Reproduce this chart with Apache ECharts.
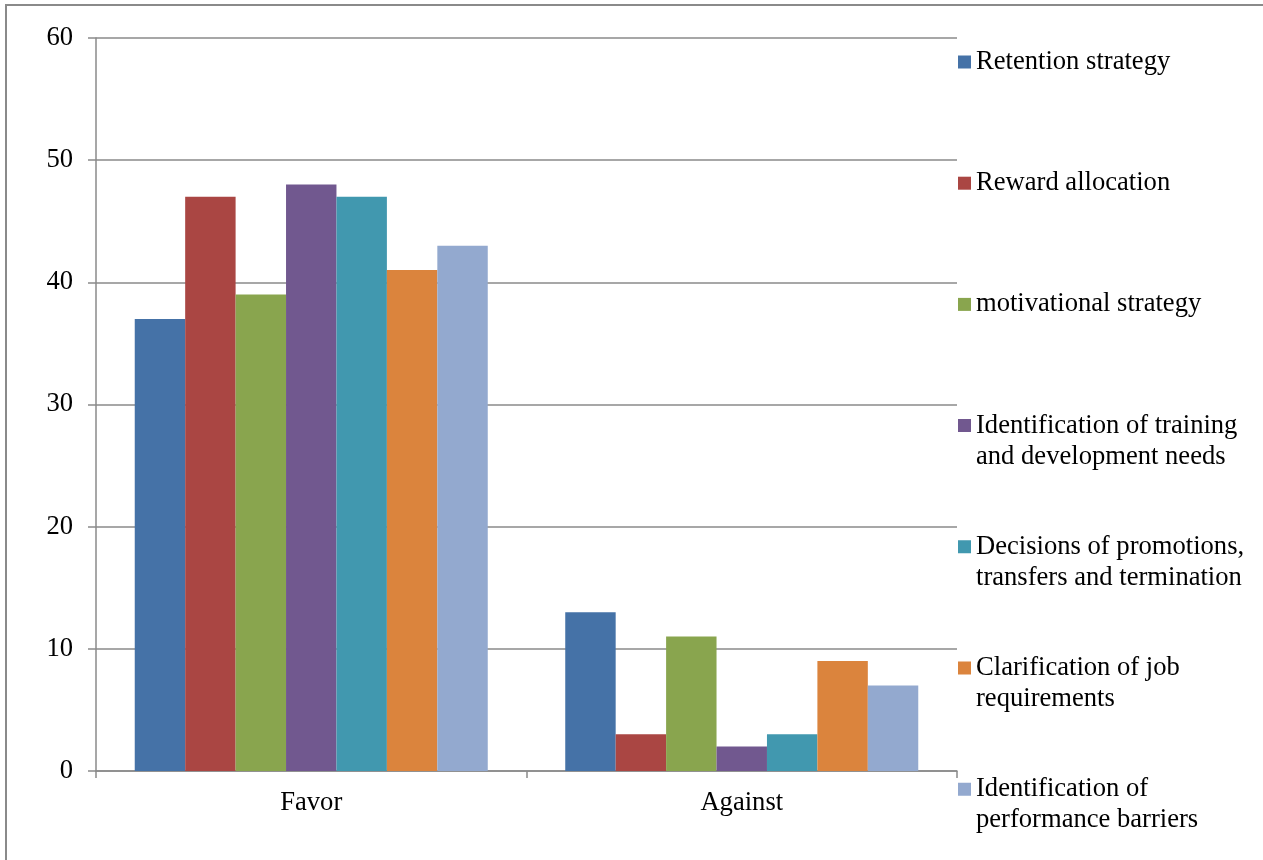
<!DOCTYPE html>
<html>
<head>
<meta charset="utf-8">
<script src="https://cdn.jsdelivr.net/npm/echarts@6/dist/echarts.min.js"></script>
<style>
  html, body { margin: 0; padding: 0; background: #fff; }
  #chart { width: 1263px; height: 860px; }
</style>
</head>
<body>
<div id="chart"></div>
<script>
// Survey responses per appraisal purpose
const categories = ['Favor', 'Against'];
const seriesNames = [
  'Retention strategy',
  'Reward allocation',
  'motivational strategy',
  'Identification of training\nand development needs',
  'Decisions of promotions,\ntransfers and termination',
  'Clarification of job\nrequirements',
  'Identification of\nperformance barriers'
];
const retention = [37, 13];
const reward = [47, 3];
const motivational = [39, 11];
const training = [48, 2];
const promotions = [47, 3];
const clarification = [41, 9];
const barriers = [43, 7];
const yTicks = [0, 10, 20, 30, 40, 50, 60];

const seriesValues = [retention, reward, motivational, training, promotions, clarification, barriers];
const colors = ['#4572A7', '#AA4643', '#89A54E', '#71588F', '#4198AF', '#DB843D', '#93A9CF'];

const FONT = '"Liberation Serif", "Times New Roman", serif';
const FS = 26.6;
const LH = 31;
const SQ = 13;

// one legend block per series, stacked down the right side;
// two-line entries keep the square beside their first line
const legendFirstY = 62;
const legendStep = 121.2;
const legends = seriesNames.map((name, i) => {
  const twoLine = name.indexOf('\n') >= 0;
  const c = legendFirstY + legendStep * i;
  const h = twoLine ? LH + SQ : SQ;
  return {
    data: [name],
    left: 958,
    top: c - LH / 2,
    padding: 0,
    itemWidth: SQ,
    itemHeight: h,
    icon: twoLine
      ? 'path://M0,0H' + SQ + 'V' + SQ + 'H0Z M0,' + (h - 0.01) + 'H0.01V' + h + 'H0Z'
      : 'rect',
    selectedMode: false,
    textStyle: {
      fontFamily: FONT,
      fontSize: FS,
      lineHeight: LH,
      color: '#000'
    }
  };
});

const chart = echarts.init(document.getElementById('chart'), null, { renderer: 'canvas' });
chart.setOption({
  animation: false,
  backgroundColor: '#fff',
  color: colors,
  grid: { left: 96, top: 38, right: 306, bottom: 89, containLabel: false },
  legend: legends,
  graphic: [{
    type: 'polyline',
    shape: { points: [[6, 860], [6, 5], [1263, 5]] },
    style: { stroke: '#8a8a8a', lineWidth: 2, fill: null },
    silent: true
  }],
  xAxis: {
    type: 'category',
    data: categories,
    axisLine: { lineStyle: { color: '#8a8a8a', width: 1.5 } },
    axisTick: { show: true, length: 7, lineStyle: { color: '#8a8a8a', width: 1.5 } },
    axisLabel: { fontFamily: FONT, fontSize: FS, color: '#000', margin: 19 }
  },
  yAxis: {
    type: 'value',
    min: yTicks[0],
    max: yTicks[yTicks.length - 1],
    interval: yTicks[1] - yTicks[0],
    axisLine: { show: true, lineStyle: { color: '#8a8a8a', width: 1.5 } },
    axisTick: { show: true, length: 8, lineStyle: { color: '#8a8a8a', width: 1.5 } },
    splitLine: { show: true, lineStyle: { color: '#8a8a8a', width: 1.5 } },
    axisLabel: { fontFamily: FONT, fontSize: FS, color: '#000', margin: 23 }
  },
  series: seriesNames.map((name, i) => ({
    name: name,
    type: 'bar',
    data: seriesValues[i],
    barGap: '0%',
    barCategoryGap: '18%',
    itemStyle: { color: colors[i] }
  }))
});
</script>
</body>
</html>
